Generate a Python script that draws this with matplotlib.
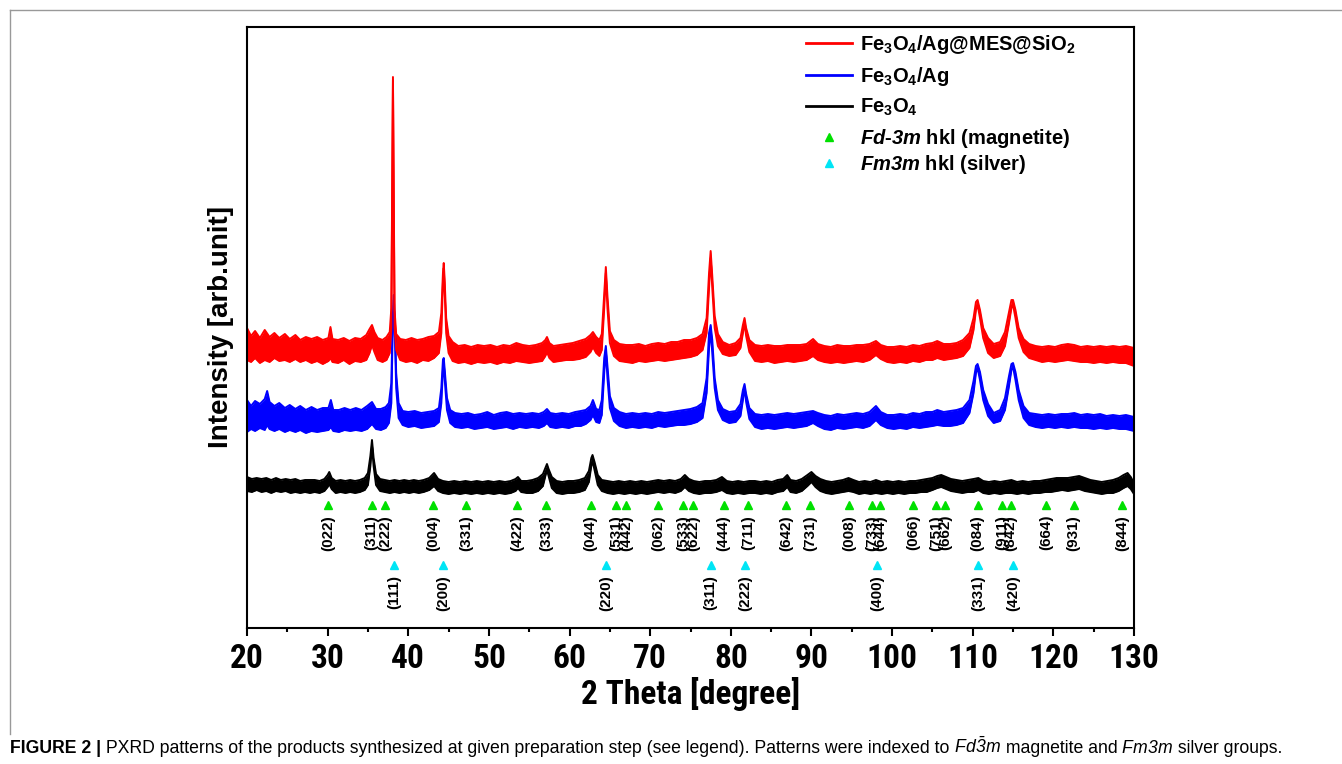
import os
import numpy as np
import matplotlib
matplotlib.use('Agg')
import matplotlib.pyplot as plt
from matplotlib import font_manager
from matplotlib.font_manager import FontProperties
from matplotlib.lines import Line2D

# ---- data (2 theta [deg], lower / upper edge of the noisy trace) ----
red_pts = [
    (20.0, 268, 300), (20.5, 266, 292), (21.0, 270, 297), (21.6, 265, 290), (22.2, 268, 298),
    (22.8, 266, 291), (23.4, 270, 295), (24.0, 267, 290), (24.7, 268, 294), (25.3, 266, 289),
    (26.0, 269, 293), (26.6, 266, 288), (27.3, 268, 291), (28.0, 265, 289), (28.7, 267, 291),
    (29.4, 264, 288), (30.1, 267, 290), (30.35, 270, 301), (30.6, 266, 289), (31.3, 265, 288),
    (32.0, 268, 290), (32.7, 264, 287), (33.4, 267, 290), (34.1, 266, 289), (34.8, 268, 293),
    (35.2, 275, 299), (35.5, 283, 303), (35.8, 276, 296), (36.2, 268, 290), (36.8, 266, 288),
    (37.3, 268, 291), (37.7, 275, 296), (37.9, 300, 320), (38.0, 420, 430), (38.1, 548, 551),
    (38.2, 420, 430), (38.3, 300, 318), (38.5, 278, 294), (39.0, 268, 289), (39.7, 266, 288),
    (40.4, 267, 290), (41.1, 265, 288), (41.8, 268, 289), (42.5, 267, 291), (43.2, 270, 292),
    (43.8, 275, 296), (44.1, 295, 315), (44.3, 345, 355), (44.4, 360, 365), (44.5, 340, 350),
    (44.7, 295, 310), (45.0, 275, 292), (45.5, 267, 286), (46.2, 265, 282), (47.0, 266, 283),
    (47.8, 264, 281), (48.6, 266, 283), (49.4, 265, 282), (50.2, 266, 283), (51.0, 264, 281),
    (51.8, 266, 283), (52.6, 265, 282), (53.4, 267, 285), (54.2, 266, 283), (55.0, 265, 282),
    (55.8, 266, 283), (56.6, 267, 285), (57.0, 272, 288), (57.2, 276, 291), (57.5, 270, 285),
    (58.0, 266, 282), (58.8, 267, 283), (59.6, 268, 284), (60.4, 268, 285), (61.2, 269, 287),
    (62.0, 271, 289), (62.6, 276, 293), (62.9, 281, 296), (63.3, 275, 291), (63.7, 272, 288),
    (64.0, 278, 294), (64.3, 320, 335), (64.5, 355, 361), (64.7, 320, 332), (65.0, 285, 297),
    (65.5, 272, 288), (66.2, 267, 284), (67.0, 266, 283), (67.8, 265, 283), (68.6, 267, 284),
    (69.4, 266, 282), (70.2, 267, 284), (71.0, 268, 285), (71.8, 267, 284), (72.6, 268, 286),
    (73.4, 269, 286), (74.2, 270, 288), (75.0, 271, 288), (75.8, 273, 290), (76.5, 278, 294),
    (77.0, 295, 310), (77.3, 340, 355), (77.5, 370, 377), (77.7, 340, 352), (78.0, 300, 312),
    (78.4, 282, 294), (79.0, 274, 286), (79.8, 272, 283), (80.6, 273, 285), (81.2, 280, 290),
    (81.5, 295, 303), (81.7, 305, 310), (81.9, 292, 300), (82.3, 276, 288), (83.0, 267, 283),
    (83.8, 266, 282), (84.6, 267, 283), (85.4, 265, 282), (86.2, 266, 282), (87.0, 267, 283),
    (87.8, 266, 283), (88.6, 267, 283), (89.4, 268, 284), (90.2, 272, 289), (90.8, 268, 284),
    (91.6, 266, 282), (92.4, 265, 281), (93.2, 266, 283), (94.0, 265, 282), (94.8, 266, 282),
    (95.6, 267, 283), (96.4, 266, 283), (97.2, 268, 284), (98.0, 273, 287), (98.6, 269, 283),
    (99.4, 266, 281), (100.2, 265, 281), (101.0, 266, 282), (101.8, 265, 281), (102.6, 267, 283),
    (103.4, 266, 282), (104.2, 268, 284), (105.0, 268, 285), (105.6, 270, 287), (106.4, 268, 284),
    (107.2, 269, 284), (108.0, 270, 285), (108.8, 272, 288), (109.6, 280, 295), (110.1, 298, 310),
    (110.4, 318, 326), (110.6, 323, 328), (110.9, 310, 318), (111.3, 290, 300), (111.9, 275, 290),
    (112.6, 270, 284), (113.4, 272, 286), (114.0, 282, 296), (114.5, 305, 316), (114.8, 320, 328),
    (115.0, 323, 328), (115.3, 310, 318), (115.7, 290, 300), (116.3, 276, 289), (117.0, 270, 284),
    (117.8, 268, 282), (118.6, 266, 281), (119.4, 267, 282), (120.2, 266, 281), (121.0, 267, 283),
    (121.8, 268, 284), (122.6, 267, 283), (123.4, 266, 281), (124.2, 266, 282), (125.0, 265, 281),
    (125.8, 266, 282), (126.6, 265, 281), (127.4, 266, 282), (128.2, 265, 281), (129.0, 265, 282),
    (130.0, 262, 280),
]

blue_pts = [
    (20.0, 196, 228), (20.5, 199, 222), (21.0, 197, 227), (21.6, 200, 224), (22.2, 198, 229),
    (22.5, 203, 237), (22.8, 199, 226), (23.4, 197, 222), (24.0, 199, 225), (24.7, 196, 220),
    (25.3, 198, 223), (26.0, 196, 219), (26.6, 198, 222), (27.3, 195, 218), (28.0, 197, 221),
    (28.7, 196, 218), (29.4, 197, 220), (30.1, 198, 220), (30.4, 201, 228), (30.7, 197, 218),
    (31.4, 196, 218), (32.1, 198, 220), (32.8, 197, 218), (33.5, 198, 220), (34.2, 197, 218),
    (34.9, 199, 222), (35.5, 204, 226), (36.0, 199, 219), (36.6, 198, 219), (37.2, 200, 221),
    (37.6, 205, 225), (37.9, 225, 245), (38.05, 290, 305), (38.2, 328, 333), (38.35, 290, 300),
    (38.5, 240, 255), (38.8, 210, 225), (39.3, 203, 217), (40.0, 201, 216), (40.8, 202, 217),
    (41.6, 200, 215), (42.4, 201, 216), (43.2, 202, 217), (43.8, 206, 220), (44.1, 225, 240),
    (44.3, 258, 268), (44.4, 266, 270), (44.55, 245, 255), (44.8, 218, 230), (45.2, 205, 218),
    (45.8, 201, 215), (46.6, 200, 214), (47.4, 201, 215), (48.2, 199, 213), (49.0, 200, 214),
    (49.8, 201, 216), (50.6, 199, 213), (51.4, 200, 215), (52.2, 201, 216), (53.0, 199, 214),
    (53.8, 201, 215), (54.6, 200, 214), (55.4, 201, 215), (56.2, 200, 214), (56.8, 202, 216),
    (57.2, 205, 219), (57.6, 201, 215), (58.3, 200, 214), (59.1, 201, 215), (59.9, 200, 214),
    (60.7, 202, 216), (61.4, 202, 217), (62.0, 204, 218), (62.6, 208, 222), (62.9, 213, 228),
    (63.3, 206, 219), (63.7, 205, 218), (64.0, 213, 228), (64.3, 255, 270), (64.5, 278, 282),
    (64.7, 250, 262), (65.0, 220, 232), (65.5, 207, 220), (66.2, 202, 216), (67.0, 200, 214),
    (67.8, 201, 215), (68.6, 200, 214), (69.4, 201, 215), (70.2, 200, 214), (71.0, 202, 216),
    (71.8, 201, 215), (72.6, 202, 216), (73.4, 203, 217), (74.2, 203, 218), (75.0, 204, 219),
    (75.8, 206, 221), (76.5, 210, 225), (77.0, 235, 250), (77.3, 280, 295), (77.5, 298, 303),
    (77.7, 275, 288), (78.0, 240, 250), (78.4, 218, 228), (79.0, 208, 219), (79.8, 205, 216),
    (80.6, 206, 217), (81.2, 212, 224), (81.5, 228, 238), (81.7, 240, 244), (81.9, 226, 234),
    (82.3, 209, 220), (83.0, 201, 214), (83.8, 199, 213), (84.6, 200, 214), (85.4, 199, 213),
    (86.2, 200, 214), (87.0, 201, 215), (87.8, 200, 214), (88.6, 201, 215), (89.4, 202, 216),
    (90.2, 205, 217), (90.8, 202, 215), (91.6, 199, 213), (92.4, 198, 212), (93.2, 200, 214),
    (94.0, 199, 213), (94.8, 200, 214), (95.6, 201, 215), (96.4, 200, 214), (97.2, 202, 216),
    (98.0, 208, 222), (98.6, 203, 216), (99.4, 200, 213), (100.2, 199, 213), (101.0, 200, 214),
    (101.8, 199, 213), (102.6, 201, 215), (103.4, 200, 214), (104.2, 201, 216), (105.0, 202, 216),
    (105.6, 203, 218), (106.4, 202, 216), (107.2, 202, 217), (108.0, 203, 218), (108.8, 205, 220),
    (109.6, 215, 228), (110.1, 235, 247), (110.4, 255, 262), (110.6, 260, 264), (110.9, 248, 256),
    (111.3, 228, 238), (111.9, 212, 224), (112.6, 205, 215), (113.4, 207, 218), (114.0, 218, 230),
    (114.5, 242, 252), (114.8, 258, 264), (115.0, 261, 265), (115.3, 248, 256), (115.7, 228, 238),
    (116.3, 210, 222), (117.0, 203, 215), (117.8, 201, 214), (118.6, 200, 213), (119.4, 201, 214),
    (120.2, 200, 213), (121.0, 201, 214), (121.8, 200, 214), (122.6, 201, 215), (123.4, 200, 213),
    (124.2, 200, 214), (125.0, 199, 213), (125.8, 200, 214), (126.6, 199, 212), (127.4, 200, 213),
    (128.2, 199, 212), (129.0, 199, 213), (130.0, 197, 211),
]

black_pts = [
    (20.0, 137, 151), (20.6, 136, 149), (21.2, 138, 150), (21.8, 136, 149), (22.4, 137, 150),
    (23.0, 135, 148), (23.6, 137, 150), (24.2, 136, 148), (24.8, 137, 149), (25.4, 135, 148),
    (26.0, 136, 149), (26.6, 135, 147), (27.2, 136, 148), (27.8, 135, 148), (28.4, 136, 148),
    (29.0, 135, 147), (29.6, 137, 149), (30.0, 141, 153), (30.2, 144, 156), (30.5, 139, 150),
    (31.0, 135, 147), (31.6, 136, 148), (32.2, 135, 147), (32.8, 136, 148), (33.4, 135, 147),
    (34.0, 136, 148), (34.6, 138, 150), (35.0, 143, 155), (35.3, 162, 172), (35.5, 182, 188),
    (35.7, 162, 170), (36.0, 143, 154), (36.5, 137, 149), (37.1, 136, 148), (37.7, 135, 147),
    (38.3, 136, 148), (38.9, 135, 147), (39.5, 136, 148), (40.1, 135, 147), (40.7, 136, 148),
    (41.3, 135, 147), (41.9, 136, 148), (42.6, 138, 150), (43.2, 142, 155), (43.7, 137, 149),
    (44.3, 135, 147), (45.0, 134, 146), (45.7, 135, 147), (46.4, 134, 146), (47.1, 135, 147),
    (47.8, 134, 146), (48.5, 135, 147), (49.2, 134, 146), (49.9, 135, 147), (50.6, 134, 146),
    (51.3, 135, 147), (52.0, 134, 146), (52.7, 135, 147), (53.3, 137, 149), (53.6, 140, 151),
    (54.0, 136, 147), (54.7, 135, 147), (55.4, 135, 148), (56.1, 137, 150), (56.7, 142, 154),
    (57.0, 152, 160), (57.2, 158, 164), (57.4, 152, 159), (57.8, 140, 151), (58.4, 135, 147),
    (59.1, 134, 146), (59.8, 135, 147), (60.5, 135, 147), (61.2, 136, 148), (61.9, 138, 150),
    (62.4, 146, 157), (62.7, 162, 170), (62.85, 167, 173), (63.1, 158, 166), (63.5, 143, 153),
    (64.0, 137, 148), (64.7, 135, 147), (65.4, 134, 146), (66.1, 135, 147), (66.8, 134, 146),
    (67.5, 135, 147), (68.2, 134, 146), (68.9, 135, 147), (69.6, 134, 146), (70.3, 135, 147),
    (71.0, 136, 148), (71.7, 135, 147), (72.4, 136, 148), (73.1, 135, 147), (73.8, 137, 149),
    (74.3, 141, 153), (74.8, 137, 149), (75.4, 135, 147), (76.1, 134, 146), (76.8, 135, 147),
    (77.5, 135, 147), (78.2, 136, 148), (78.9, 138, 151), (79.5, 135, 147), (80.2, 134, 146),
    (80.9, 135, 147), (81.6, 134, 146), (82.3, 135, 147), (83.0, 135, 147), (83.7, 134, 146),
    (84.4, 135, 147), (85.1, 134, 146), (85.8, 136, 148), (86.5, 137, 149), (87.0, 141, 153),
    (87.4, 136, 148), (88.1, 135, 147), (88.8, 137, 149), (89.5, 142, 153), (90.0, 146, 156),
    (90.5, 141, 152), (91.1, 137, 149), (91.8, 135, 147), (92.5, 134, 146), (93.2, 135, 147),
    (93.9, 136, 148), (94.6, 137, 150), (95.2, 136, 148), (95.9, 134, 146), (96.6, 135, 147),
    (97.3, 134, 146), (98.0, 135, 148), (98.7, 134, 146), (99.4, 135, 147), (100.1, 134, 146),
    (100.8, 135, 147), (101.5, 134, 146), (102.2, 135, 147), (102.9, 135, 147), (103.6, 136, 148),
    (104.3, 136, 149), (105.0, 138, 150), (105.6, 140, 152), (106.1, 141, 153), (106.7, 139, 151),
    (107.3, 137, 149), (108.0, 136, 148), (108.7, 135, 147), (109.4, 136, 148), (110.1, 136, 149),
    (110.7, 138, 150), (111.3, 135, 147), (112.0, 134, 146), (112.7, 135, 147), (113.4, 134, 146),
    (114.1, 135, 147), (114.8, 135, 148), (115.5, 134, 146), (116.2, 135, 147), (116.9, 134, 146),
    (117.6, 135, 147), (118.3, 135, 147), (119.0, 136, 148), (119.7, 136, 149), (120.4, 137, 150),
    (121.1, 138, 150), (121.8, 137, 150), (122.5, 138, 151), (123.2, 139, 152), (123.9, 137, 150),
    (124.6, 136, 148), (125.3, 135, 147), (126.0, 134, 146), (126.7, 135, 147), (127.4, 135, 148),
    (128.1, 137, 150), (128.7, 140, 153), (129.2, 142, 155), (129.6, 139, 151), (130.0, 134, 145),
]

# hkl reflections
mag_pos = [30.1, 35.45, 37.1, 43.1, 47.2, 53.5, 57.1, 62.6, 65.8, 67.0,
           71.0, 74.1, 75.3, 79.1, 82.1, 86.9, 89.8, 94.7, 97.5, 98.5,
           102.6, 105.5, 106.6, 110.6, 113.6, 114.7, 119.1, 122.5, 128.5]
mag_hkl = ['(022)', '(311)', '(222)', '(004)', '(331)', '(422)', '(333)', '(044)', '(531)', '(442)',
           '(062)', '(533)', '(622)', '(444)', '(711)', '(642)', '(731)', '(008)', '(733)', '(644)',
           '(066)', '(751)', '(662)', '(084)', '(911)', '(842)', '(664)', '(931)', '(844)']
ag_pos = [38.2, 44.3, 64.5, 77.5, 81.8, 98.1, 110.7, 115.0]
ag_hkl = ['(111)', '(200)', '(220)', '(311)', '(222)', '(400)', '(331)', '(420)']

series_labels = [r'Fe$_3$O$_4$/Ag@MES@SiO$_2$', r'Fe$_3$O$_4$/Ag', r'Fe$_3$O$_4$']
marker_labels = [r'$\mathsf{Fd}$-$\mathsf{3m}$ hkl (magnetite)', r'$\mathsf{Fm3m}$ hkl (silver)']

RED, BLUE, BLACK = '#ff0000', '#0000ff', '#000000'
GREEN, CYAN = '#00e000', '#00e5f5'


def narrow_bold_file():
    # look for a condensed bold sans (Arial Narrow look-alike)
    prefs = ['liberation sans narrow', 'arial narrow', 'roboto condensed', 'noto sans',
             'open sans', 'dejavu sans', 'lato', 'inter', 'roboto']
    best = None
    for f in font_manager.fontManager.ttflist:
        tag = (f.name + ' ' + os.path.basename(f.fname)).lower()
        cond = ('narrow' in tag or 'condensed' in tag or
                str(f.stretch) in ('condensed', 'semi-condensed', 'extra-condensed'))
        if not cond or f.style != 'normal':
            continue
        if any(k in tag for k in ('extra', 'ultra', 'semi', 'mono', 'serif', 'black')):
            continue
        w = f.weight if isinstance(f.weight, int) else {'bold': 700}.get(f.weight, 400)
        if w != 700:
            continue
        rank = next((i for i, p in enumerate(prefs) if tag.startswith(p)), len(prefs))
        if best is None or rank < best[0]:
            best = (rank, f.fname)
    return best[1] if best else None


narrow_file = narrow_bold_file()
if narrow_file:
    tick_font = FontProperties(fname=narrow_file, size=24)
    xlab_font = FontProperties(fname=narrow_file, size=24)
else:
    tick_font = FontProperties(family='Liberation Sans', weight='bold', size=21)
    xlab_font = FontProperties(family='Liberation Sans', weight='bold', size=21)

plt.rcParams['font.family'] = 'Liberation Sans'
plt.rcParams['mathtext.fontset'] = 'custom'
plt.rcParams['mathtext.rm'] = 'Liberation Sans:bold'
plt.rcParams['mathtext.it'] = 'Liberation Sans:italic:bold'
plt.rcParams['mathtext.bf'] = 'Liberation Sans:bold'
plt.rcParams['mathtext.sf'] = 'Liberation Sans:italic:bold'
plt.rcParams['mathtext.tt'] = 'Liberation Sans:italic'

W, H = 1342, 764
fig = plt.figure(figsize=(W / 100, H / 100), dpi=100)
ax = fig.add_axes([247 / W, 1 - 628 / H, (1134 - 247) / W, (628 - 27) / H])

for pts, col in [(black_pts, BLACK), (blue_pts, BLUE), (red_pts, RED)]:
    x, lo, hi = np.array(pts).T
    ax.fill_between(x, lo, hi, color=col, lw=0)
    ax.plot(x, lo, color=col, lw=1.4)
    ax.plot(x, hi, color=col, lw=1.4)

# reflection markers + labels
ax.plot(mag_pos, [123] * len(mag_pos), ls='none', marker='^', ms=6, color=GREEN)
for p, s in zip(mag_pos, mag_hkl):
    ax.text(p, 113, s, rotation=90, ha='center', va='top', fontsize=11, fontweight='bold')
ax.plot(ag_pos, [63] * len(ag_pos), ls='none', marker='^', ms=6, color=CYAN)
for p, s in zip(ag_pos, ag_hkl):
    ax.text(p, 53, s, rotation=90, ha='center', va='top', fontsize=11, fontweight='bold')

ax.set_xlim(20, 130)
ax.set_ylim(0, 601)
ax.set_xticks(np.arange(20, 131, 10))
ax.set_xticks(np.arange(25, 130, 10), minor=True)
ax.set_yticks([])
ax.tick_params(axis='x', which='major', direction='out', length=6, width=1.5, pad=5)
ax.tick_params(axis='x', which='minor', direction='out', length=3, width=1.5)
for lbl in ax.get_xticklabels():
    lbl.set_fontproperties(tick_font)
for sp in ax.spines.values():
    sp.set_linewidth(1.5)

ax.set_xlabel('2 Theta [degree]', fontproperties=xlab_font, labelpad=1)
ax.set_ylabel('Intensity [arb.unit]', fontweight='bold', fontsize=20, labelpad=9)

line_handles = [Line2D([], [], color=RED, lw=2), Line2D([], [], color=BLUE, lw=2),
                Line2D([], [], color=BLACK, lw=2)]
mark_handles = [Line2D([], [], ls='none', marker='^', ms=6, color=GREEN),
                Line2D([], [], ls='none', marker='^', ms=6, color=CYAN)]
leg_kw = dict(loc='upper left', frameon=False, prop={'weight': 'bold', 'size': 14.5},
              handlelength=2.3, handletextpad=0.4, borderpad=0, borderaxespad=0)
fig.legend(line_handles, series_labels, bbox_to_anchor=(806 / W, 1 - 33 / H),
           labelspacing=0.45, **leg_kw)
fig.legend(mark_handles, marker_labels, bbox_to_anchor=(806 / W, 1 - 127 / H),
           labelspacing=0.15, **leg_kw)

# figure frame
fig.add_artist(Line2D([10 / W, 1], [1 - 10 / H, 1 - 10 / H], color='#999999', lw=1))
fig.add_artist(Line2D([10 / W, 10 / W], [1 - 10 / H, 1 - 734 / H], color='#999999', lw=1))

# caption, written run by run
runs = [('FIGURE 2 |', 'bold'),
        (' PXRD patterns of the products synthesized at given preparation step (see legend). '
         'Patterns were indexed to', 'normal'),
        (r' $\mathtt{Fd\bar{3}m}$', 'normal'),
        (' magnetite and', 'normal'),
        (r' $\mathtt{Fm3m}$', 'normal'),
        (' silver groups.', 'normal')]
renderer = fig.canvas.get_renderer()


def put_caption(fs):
    x = 10 / W
    arts = []
    for txt, wt in runs:
        t = fig.text(x, 1 - 753 / H, txt, fontsize=fs, family='Liberation Sans', fontweight=wt,
                     ha='left', va='baseline')
        arts.append(t)
        x += t.get_window_extent(renderer).width / W
    return arts, x * W - 10


arts, width = put_caption(13)
for a in arts:
    a.remove()
put_caption(13 * 1270 / width)

fig.savefig('out.png', dpi=100)
